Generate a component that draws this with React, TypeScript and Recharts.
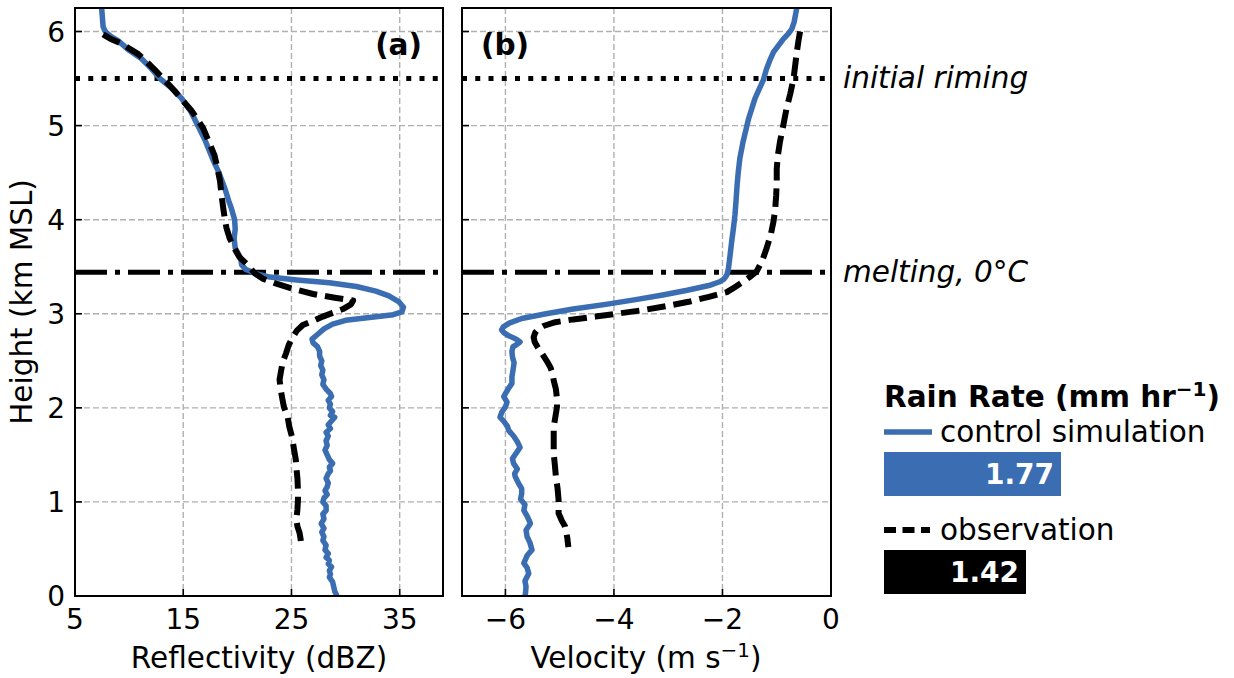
import React from "react";
import {
  ScatterChart,
  Scatter,
  XAxis,
  YAxis,
  CartesianGrid,
  ReferenceLine,
  BarChart,
  Bar,
  Cell,
  LabelList,
} from "recharts";

const BLUE = "#3a6db2";
const FONT = "'DejaVu Sans', sans-serif";

// height (km MSL) ticks shared by both panels
const heightTicks = [0, 1, 2, 3, 4, 5, 6];
const reflTicks = [5, 15, 25, 35];
const velTicks = [-6, -4, -2, 0];

const RIMING_H = 5.5;
const MELTING_H = 3.44;

// (a) reflectivity, control simulation
const ctrlReflH = [
  6.25, 6.12, 6.05, 6.0, 5.95, 5.9, 5.8, 5.71, 5.6, 5.5, 5.4, 5.29, 5.15, 5.0, 4.85, 4.65, 4.5, 4.33, 4.2,
  4.12, 4.0, 3.9, 3.8, 3.7, 3.59, 3.52, 3.47, 3.42, 3.39, 3.36, 3.33, 3.29, 3.24, 3.19, 3.13, 3.07, 3.02,
  2.99, 2.96, 2.93, 2.89, 2.84, 2.78, 2.73, 2.69, 2.65, 2.6, 2.55, 2.5, 2.45, 2.4, 2.35, 2.3, 2.25, 2.2,
  2.15, 2.12, 2.08, 2.04, 2.0, 1.96, 1.92, 1.9, 1.86, 1.82, 1.78, 1.74, 1.7, 1.65, 1.6, 1.55, 1.5, 1.45,
  1.41, 1.37, 1.33, 1.3, 1.25, 1.2, 1.16, 1.12, 1.08, 1.04, 1.0, 0.96, 0.91, 0.87, 0.82, 0.77, 0.72, 0.68,
  0.63, 0.59, 0.54, 0.49, 0.45, 0.41, 0.38, 0.34, 0.31, 0.27, 0.23, 0.2, 0.15, 0.1, 0.05, 0.0,
];
const ctrlRefl = [
  7.46, 7.55, 7.6, 7.8, 8.3, 9.0, 10.0, 11.15, 12.1, 12.85, 13.9, 14.85, 15.7, 16.35, 17.0, 17.7, 18.3, 18.85,
  19.2, 19.45, 19.75, 19.8, 19.7, 19.8, 20.3, 20.4, 20.8, 21.9, 23.0, 25.5, 28.5, 31.0, 32.8, 34.0, 34.9, 35.35,
  35.2, 34.4, 32.2, 30.0, 28.8, 28.0, 27.4, 26.9, 27.0, 27.4, 27.6, 27.6, 27.8, 27.7, 27.9, 27.8, 28.0, 27.9,
  28.2, 28.6, 28.7, 28.4, 28.6, 28.5, 28.8, 28.6, 29.0, 28.7, 28.4, 28.6, 28.2, 28.4, 28.2, 28.3, 28.1, 28.3,
  28.5, 28.8, 28.5, 28.6, 28.4, 28.2, 28.4, 28.3, 28.1, 28.3, 28.0, 27.9, 28.2, 28.2, 27.9, 28.0, 27.75, 28.0,
  27.8, 28.0, 27.9, 28.2, 28.1, 28.4, 28.2, 28.5, 28.4, 28.7, 28.5, 28.6, 28.5, 28.8, 28.9, 29.0, 29.2,
];

// (a) reflectivity, observation
const obsReflH = [
  5.97, 5.92, 5.87, 5.76, 5.67, 5.59, 5.48, 5.37, 5.26, 5.16, 5.07, 4.97, 4.82, 4.68, 4.55, 4.41, 4.25, 4.12,
  4.0, 3.91, 3.8, 3.69, 3.6, 3.52, 3.43, 3.37, 3.32, 3.26, 3.21, 3.17, 3.14, 3.1, 3.05, 3.01, 2.97, 2.92,
  2.88, 2.82, 2.75, 2.67, 2.58, 2.49, 2.4, 2.3, 2.2, 2.1, 2.01, 1.9, 1.8, 1.69, 1.55, 1.45, 1.37, 1.25, 1.12,
  1.02, 0.92, 0.81, 0.74, 0.67, 0.6, 0.52,
];
const obsRefl = [
  7.6, 8.3, 9.3, 10.85, 11.7, 12.4, 13.3, 14.2, 15.0, 15.75, 16.3, 16.85, 17.4, 17.9, 18.15, 18.4, 18.55, 18.7,
  18.85, 19.0, 19.3, 19.75, 20.2, 20.95, 21.6, 22.4, 23.6, 25.3, 27.0, 29.0, 30.7, 30.5, 29.75, 28.8, 27.9,
  26.9, 26.05, 25.5, 25.1, 24.75, 24.5, 24.2, 24.05, 23.9, 24.0, 24.15, 24.3, 24.65, 24.8, 25.05, 25.25, 25.4,
  25.45, 25.55, 25.6, 25.6, 25.55, 25.45, 25.55, 25.75, 25.85, 25.9,
];

// (b) velocity, control simulation
const ctrlVelH = [
  6.25, 6.1, 6.03, 5.98, 5.92, 5.85, 5.78, 5.69, 5.6, 5.48, 5.38, 5.29, 5.18, 5.07, 4.95, 4.83, 4.65, 4.5,
  4.37, 4.2, 4.05, 3.9, 3.77, 3.62, 3.48, 3.41, 3.37, 3.34, 3.3, 3.25, 3.2, 3.15, 3.1, 3.05, 3.0, 2.95, 2.9,
  2.86, 2.83, 2.8, 2.77, 2.73, 2.7, 2.67, 2.65, 2.6, 2.54, 2.48, 2.4, 2.33, 2.26, 2.2, 2.15, 2.12, 2.06, 2.01,
  1.95, 1.9, 1.85, 1.8, 1.76, 1.7, 1.64, 1.58, 1.52, 1.46, 1.41, 1.35, 1.3, 1.27, 1.2, 1.14, 1.09, 1.03, 0.97,
  0.91, 0.85, 0.8, 0.77, 0.7, 0.63, 0.57, 0.49, 0.43, 0.35, 0.3, 0.24, 0.16, 0.1, 0.03, 0.0,
];
const ctrlVel = [
  -0.63, -0.68, -0.72, -0.78, -0.88, -0.97, -1.06, -1.13, -1.19, -1.25, -1.33, -1.4, -1.46, -1.52, -1.57,
  -1.62, -1.68, -1.71, -1.73, -1.75, -1.77, -1.8, -1.83, -1.86, -1.89, -1.92, -1.97, -2.05, -2.25, -2.65,
  -3.1, -3.6, -4.15, -4.75, -5.25, -5.7, -5.93, -6.04, -6.07, -6.03, -5.95, -5.8, -5.73, -5.8, -5.86, -5.88,
  -5.87, -5.84, -5.86, -5.88, -5.88, -5.95, -6.0, -6.03, -5.97, -6.0, -6.07, -6.1, -6.02, -5.96, -5.94, -5.85,
  -5.78, -5.73, -5.8, -5.87, -5.85, -5.78, -5.83, -5.82, -5.76, -5.7, -5.7, -5.72, -5.64, -5.66, -5.6, -5.56,
  -5.54, -5.62, -5.6, -5.55, -5.51, -5.6, -5.66, -5.6, -5.57, -5.64, -5.62, -5.63, -5.64,
];

// (b) velocity, observation
const obsVelH = [
  6.0, 5.9, 5.78, 5.64, 5.5, 5.34, 5.18, 5.0, 4.83, 4.68, 4.54, 4.4, 4.26, 4.1, 3.98, 3.84, 3.69, 3.56, 3.45,
  3.39, 3.34, 3.28, 3.23, 3.18, 3.13, 3.08, 3.04, 3.0, 2.97, 2.94, 2.91, 2.87, 2.84, 2.8, 2.75, 2.7, 2.64,
  2.58, 2.5, 2.43, 2.36, 2.29, 2.2, 2.1, 2.01, 1.9, 1.8, 1.65, 1.51, 1.4, 1.27, 1.15, 1.02, 0.88, 0.8, 0.74,
  0.62, 0.52,
];
const obsVel = [
  -0.57, -0.6, -0.63, -0.66, -0.69, -0.75, -0.82, -0.88, -0.94, -0.98, -1.0, -1.0, -1.01, -1.03, -1.06, -1.11,
  -1.19, -1.27, -1.37, -1.5, -1.62, -1.78, -1.92, -2.25, -2.6, -3.05, -3.45, -3.95, -4.34, -4.75, -5.08, -5.3,
  -5.39, -5.45, -5.48, -5.46, -5.4, -5.33, -5.24, -5.17, -5.13, -5.11, -5.07, -5.05, -5.05, -5.08, -5.11,
  -5.11, -5.11, -5.09, -5.07, -5.04, -5.02, -5.02, -4.96, -4.9, -4.86, -4.84,
];

// rain rate (mm/hr)
const rainNames = ["control simulation", "observation"];
const rainRates = [1.77, 1.42];
const rainColors = [BLUE, "#000000"];

const toPoints = (hs: number[], xs: number[]) => hs.map((h, i) => ({ h, x: xs[i] }));
const rainData = rainNames.map((name, i) => ({ name, value: rainRates[i] }));

const PLOT_TOP = 8;
const PLOT_BOTTOM = 596;
const TICK = 7;
const TICK_FS = 28;
const LABEL_FS = 29.5;

const minus = (v: number) => (v < 0 ? `\u2212${Math.abs(v)}` : `${v}`);
const noDot = () => <g />;

function makeXTick(fmt: (v: number) => string) {
  return function XTick(props: any) {
    const { x, payload } = props;
    return (
      <g>
        <line x1={x} x2={x} y1={PLOT_BOTTOM} y2={PLOT_BOTTOM - TICK} stroke="#000" strokeWidth={1.6} />
        <text x={x} y={629} textAnchor="middle" fontSize={TICK_FS} fontFamily={FONT} fill="#000">
          {fmt(payload.value)}
        </text>
      </g>
    );
  };
}

function makeYTick(left: number, showLabel: boolean) {
  return function YTick(props: any) {
    const { y, payload } = props;
    return (
      <g>
        <line x1={left} x2={left + TICK} y1={y} y2={y} stroke="#000" strokeWidth={1.6} />
        {showLabel && (
          <text x={left - 10} y={y + 10} textAnchor="end" fontSize={TICK_FS} fontFamily={FONT} fill="#000">
            {payload.value}
          </text>
        )}
      </g>
    );
  };
}

const gridProps = { strokeDasharray: "6 3", stroke: "#b0b0b0", strokeWidth: 1.4 };
const rimingProps = { stroke: "#000", strokeWidth: 5, strokeDasharray: "5 8.25" };
const meltingProps = { stroke: "#000", strokeWidth: 5, strokeDasharray: "32 8 5 8" };
const ctrlLine = { stroke: BLUE, strokeWidth: 5.5, strokeLinejoin: "round" as const };
const obsLine = { stroke: "#000", strokeWidth: 6, strokeDasharray: "18.5 8", strokeLinejoin: "round" as const };

export default function App() {
  return (
    <div style={{ position: "absolute", left: 0, top: 0, width: 1234, height: 678, background: "#fff" }}>
      {/* (a) reflectivity */}
      <div style={{ position: "absolute", left: 0, top: 0 }}>
        <ScatterChart width={460} height={678} margin={{ top: PLOT_TOP, right: 17, bottom: 0, left: 15 }}>
          <CartesianGrid {...gridProps} />
          <XAxis
            type="number"
            dataKey="x"
            domain={[5, 39]}
            ticks={reflTicks}
            allowDataOverflow
            height={82}
            axisLine={false}
            tickLine={false}
            tick={makeXTick((v) => `${v}`)}
          />
          <YAxis
            type="number"
            dataKey="h"
            domain={[0, 6.25]}
            ticks={heightTicks}
            allowDataOverflow
            width={60}
            axisLine={false}
            tickLine={false}
            tick={makeYTick(75, true)}
          />
          <ReferenceLine y={RIMING_H} {...rimingProps} />
          <ReferenceLine y={MELTING_H} {...meltingProps} />
          <Scatter data={toPoints(ctrlReflH, ctrlRefl)} line={ctrlLine} shape={noDot} isAnimationActive={false} />
          <Scatter data={toPoints(obsReflH, obsRefl)} line={obsLine} shape={noDot} isAnimationActive={false} />
        </ScatterChart>
      </div>

      {/* (b) velocity */}
      <div style={{ position: "absolute", left: 446, top: 0 }}>
        <ScatterChart width={410} height={678} margin={{ top: PLOT_TOP, right: 25, bottom: 0, left: 15 }}>
          <CartesianGrid {...gridProps} />
          <XAxis
            type="number"
            dataKey="x"
            domain={[-6.8, 0]}
            ticks={velTicks}
            allowDataOverflow
            height={82}
            axisLine={false}
            tickLine={false}
            tick={makeXTick(minus)}
          />
          <YAxis
            type="number"
            dataKey="h"
            domain={[0, 6.25]}
            ticks={heightTicks}
            allowDataOverflow
            width={1}
            axisLine={false}
            tickLine={false}
            tick={makeYTick(16, false)}
          />
          <ReferenceLine y={RIMING_H} {...rimingProps} />
          <ReferenceLine y={MELTING_H} {...meltingProps} />
          <Scatter data={toPoints(ctrlVelH, ctrlVel)} line={ctrlLine} shape={noDot} isAnimationActive={false} />
          <Scatter data={toPoints(obsVelH, obsVel)} line={obsLine} shape={noDot} isAnimationActive={false} />
        </ScatterChart>
      </div>

      {/* rain rate bars */}
      <div style={{ position: "absolute", left: 884, top: 425 }}>
        <BarChart layout="vertical" width={300} height={196} data={rainData} margin={{ top: 0, right: 0, bottom: 0, left: 0 }}>
          <XAxis type="number" domain={[0, 3]} hide />
          <YAxis type="category" dataKey="name" hide width={0} />
          <Bar dataKey="value" barSize={44} isAnimationActive={false}>
            {rainData.map((d, i) => (
              <Cell key={d.name} fill={rainColors[i]} />
            ))}
            <LabelList
              dataKey="value"
              position="insideRight"
              offset={7}
              fill="#fff"
              fontSize={28}
              fontWeight="bold"
              fontFamily={FONT}
              formatter={(v: any) => Number(v).toFixed(2)}
            />
          </Bar>
        </BarChart>
      </div>

      {/* frames, labels and annotations */}
      <svg
        width={1234}
        height={678}
        style={{ position: "absolute", left: 0, top: 0, pointerEvents: "none" }}
        fontFamily={FONT}
      >
        <rect x={75} y={PLOT_TOP} width={368} height={PLOT_BOTTOM - PLOT_TOP} fill="none" stroke="#000" strokeWidth={2} />
        <rect x={462} y={PLOT_TOP} width={369} height={PLOT_BOTTOM - PLOT_TOP} fill="none" stroke="#000" strokeWidth={2} />

        <text x={422} y={55} textAnchor="end" fontSize={LABEL_FS} fontWeight="bold">(a)</text>
        <text x={481} y={55} fontSize={LABEL_FS} fontWeight="bold">(b)</text>

        <text x={843} y={88} fontSize={LABEL_FS} fontStyle="italic">initial riming</text>
        <text x={843} y={282} fontSize={LABEL_FS} fontStyle="italic">melting, 0°C</text>

        <text transform="translate(32,302) rotate(-90)" textAnchor="middle" fontSize={LABEL_FS}>Height (km MSL)</text>
        <text x={259} y={668} textAnchor="middle" fontSize={LABEL_FS}>Reflectivity (dBZ)</text>
        <text x={646} y={668} textAnchor="middle" fontSize={LABEL_FS}>
          Velocity (m s<tspan fontSize={20} dy={-11}>{"\u2212"}1</tspan>
          <tspan dy={11}>)</tspan>
        </text>

        <text x={884} y={407} fontSize={LABEL_FS} fontWeight="bold">
          Rain Rate (mm hr<tspan fontSize={20} dy={-11}>{"\u2212"}1</tspan>
          <tspan dy={11}>)</tspan>
        </text>
        <line x1={884} x2={932} y1={432} y2={432} stroke={BLUE} strokeWidth={5.5} />
        <text x={940} y={442} fontSize={LABEL_FS}>{rainNames[0]}</text>
        <line x1={884} x2={930} y1={530} y2={530} stroke="#000" strokeWidth={6} strokeDasharray="12 6.5" />
        <text x={940} y={540} fontSize={LABEL_FS}>{rainNames[1]}</text>
      </svg>
    </div>
  );
}
